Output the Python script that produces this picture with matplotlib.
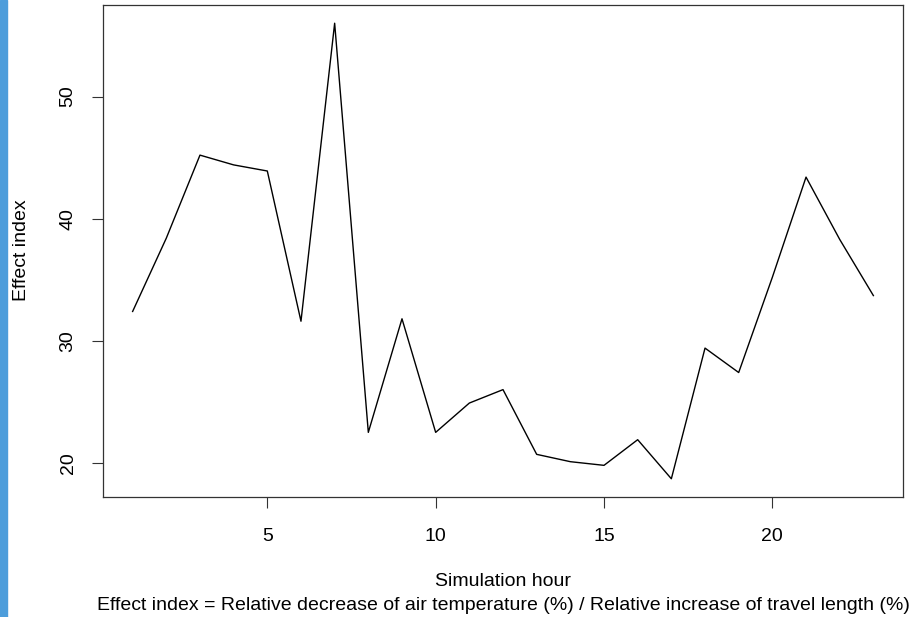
import matplotlib
matplotlib.use('Agg')
import matplotlib.pyplot as plt
from matplotlib.patches import Rectangle

plt.rcParams['font.family'] = ['Liberation Sans', 'DejaVu Sans']

# simulation hours and effect index
hours = list(range(1, 24))
effect = [32.4, 38.4, 45.2, 44.4, 43.9, 31.6, 56.0, 22.5, 31.8, 22.5, 24.9,
          26.0, 20.7, 20.1, 19.8, 21.9, 18.7, 29.4, 27.4, 35.2, 43.4, 38.3, 33.7]
xticks = [5, 10, 15, 20]
yticks = [20, 30, 40, 50]

W, H = 916, 617
fig = plt.figure(figsize=(W / 100, H / 100), dpi=100)
fig.patches.append(Rectangle((0, 0), 7 / W, 1, transform=fig.transFigure,
                             color='#4d9ddb', zorder=-1))

ax = fig.add_axes([103 / W, (H - 497) / H, 800 / W, 492 / H])
ax.plot(hours, effect, color='black', lw=1.0)

# R-style 4% padding
pad_x = 0.04 * (max(hours) - min(hours))
pad_y = 0.04 * (max(effect) - min(effect))
ax.set_xlim(min(hours) - pad_x, max(hours) + pad_x)
ax.set_ylim(min(effect) - pad_y, max(effect) + pad_y)

ax.set_xticks(xticks)
ax.set_yticks(yticks)
ax.tick_params(length=8, width=0.8, color='#333333', labelsize=14)
ax.tick_params(axis='x', pad=14)
ax.tick_params(axis='y', pad=11)
for lab in ax.get_yticklabels():
    lab.set_rotation(90)
    lab.set_va('center')
for s in ax.spines.values():
    s.set_linewidth(0.9)
    s.set_color('#333333')

fig.text(22 / W, 1 - 250 / H, 'Effect index', rotation=90, ha='center',
         va='center', fontsize=14)
fig.text(503 / W, 1 - 582 / H, 'Simulation hour', ha='center', va='center',
         fontsize=14)
fig.text(503 / W, 1 - 606 / H,
         'Effect index = Relative decrease of air temperature (%) / '
         'Relative increase of travel length (%)',
         ha='center', va='center', fontsize=14)

fig.savefig('out.png', dpi=100)
